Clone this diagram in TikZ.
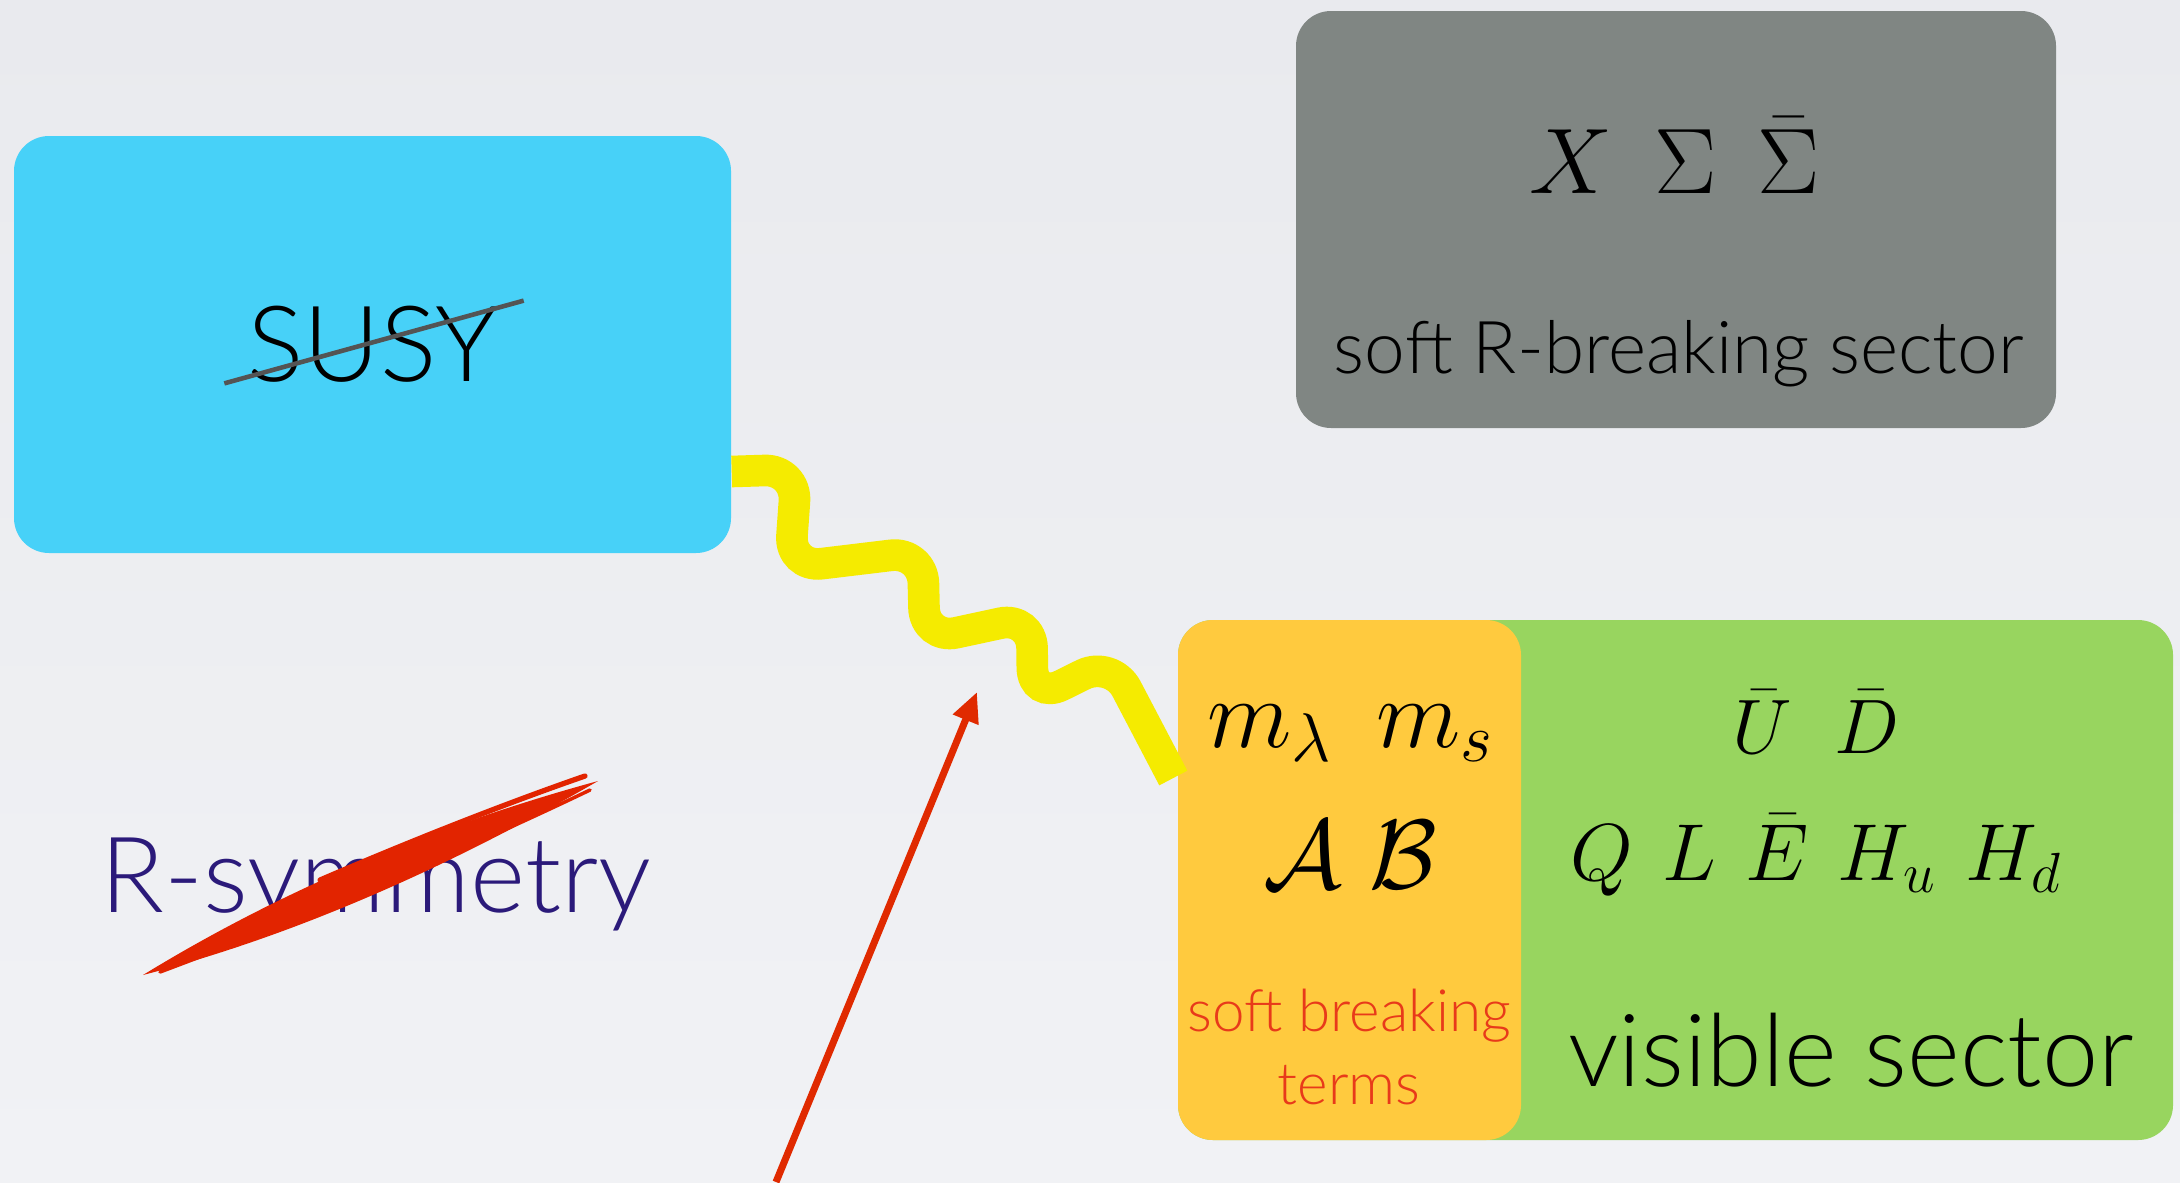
\documentclass[tikz,border=0pt]{standalone}
\usepackage{fix-cm}
\usepackage[no-math]{fontspec}
\IfFontExistsTF{Lato Light}{\setmainfont{Lato Light}}{\setmainfont{Carlito}}
\usetikzlibrary{arrows.meta, positioning, calc}

\definecolor{slidetop}{RGB}{233,234,238}
\definecolor{slidebot}{RGB}{241,242,245}
\definecolor{susyblue}{RGB}{71,209,248}
\definecolor{hiddengray}{RGB}{128,134,131}
\definecolor{visgreen}{RGB}{152,213,95}
\definecolor{softorange}{RGB}{255,202,62}
\definecolor{termred}{RGB}{232,58,26}
\definecolor{rpurple}{RGB}{43,26,122}
\definecolor{wiggleyellow}{RGB}{245,235,0}
\definecolor{arrowred}{RGB}{224,42,0}
\definecolor{brushred}{RGB}{226,36,0}

\begin{document}
\begin{tikzpicture}[
  every node/.style={align=center, inner sep=0pt},
  sector/.style={rounded corners=3.5mm, minimum height=4.17cm},
  bigtxt/.style={font=\fontsize{30}{36}\selectfont},
  midtxt/.style={font=\fontsize{20.75}{25}\selectfont},
  smalltxt/.style={font=\fontsize{16.6}{21}\selectfont, text=termred},
  hugetxt/.style={font=\fontsize{28.7}{34}\selectfont},
  strike/.style={draw=black!67, line width=1.3pt},
  wiggle/.style={draw=wiggleyellow, line width=9pt, rounded corners=3.2mm},
]

\path[use as bounding box, top color=slidetop, bottom color=slidebot] (0,0) rectangle (21.8,11.82);

% broken SUSY
\node [sector, fill=susyblue, minimum width=7.17cm] (susy_box) at (3.725,8.375) {};
\node [bigtxt] (susy_lbl) at (susy_box) {SUSY};
\draw [strike] ([xshift=-2.2mm]susy_lbl.south west) -- ([shift={(2.5mm,0.5mm)}]susy_lbl.north east);

% hidden sector
\node [sector, fill=hiddengray, minimum width=7.6cm] (hidden_box) at (16.76,9.625) {};
\node [font=\fontsize{26.5}{32}\selectfont, anchor=base] (hidden_fields) at (16.75,9.89) {$X\;\,\Sigma\;\,\bar\Sigma$};
\node [midtxt, anchor=base] (hidden_lbl) at (16.79,8.09) {soft R-breaking sector};

% visible sector with the soft terms
\node [sector, fill=visgreen, minimum width=9.95cm, minimum height=5.2cm] (vis_box) at (16.755,3.02) {};
\node [sector, fill=softorange, minimum width=3.43cm, minimum height=5.2cm, anchor=west] (soft_box) at (vis_box.west) {};

\node [font=\fontsize{28}{34}\selectfont, anchor=base] (soft_masses) at (13.51,4.35) {$m_\lambda\;\,m_s$};
\node [font=\fontsize{28}{34}\selectfont, anchor=base] (soft_ab) at (13.50,2.94) {$\mathcal{A}\;\mathcal{B}$};
\node [smalltxt] (soft_lbl) at (13.49,1.35) {soft breaking\\terms};

\node [font=\fontsize{22}{27}\selectfont, anchor=base] (vis_ud) at (18.16,4.29) {$\bar U\;\;\bar D$};
\node [font=\fontsize{23}{28}\selectfont, anchor=base] (vis_fields) at (18.16,3.02) {$Q\mskip6.5mu L\mskip6.5mu \bar E\mskip6.5mu H_u\mskip6.5mu H_d$};
\node [hugetxt, anchor=base] (vis_lbl) at (18.51,0.96) {visible sector};

% broken R-symmetry
\node [bigtxt, text=rpurple, anchor=base] (rsym_lbl) at (3.76,2.70) {R-symmetry};
\fill [brushred] (1.43,2.07) .. controls (2.85,2.94) and (4.40,3.58) .. (5.98,4.01)
                 .. controls (4.56,3.19) and (3.01,2.48) .. cycle;
\draw [brushred, line width=1.5pt, line cap=round] (3.2,3.02) .. controls (4.2,3.45) and (5.1,3.8) .. (5.85,4.06);
\draw [brushred, line width=1pt, line cap=round] (1.6,2.1) .. controls (2.8,2.55) and (4.4,3.2) .. (5.9,3.92);

% mediation
\draw [wiggle] ([yshift=-1.27cm]susy_box.east) -- ++(0.65,0.02) -- ++(-0.07,-0.98)
  -- ++(1.33,0.16) -- ++(0.02,-0.88) -- ++(1.07,0.23) -- ++(0.01,-0.83)
  -- ++(0.79,0.39) -- ([shift={(-0.04,1.02)}]soft_box.west);

% pointer
\coordinate (ptr_tail) at (7.76,0);
\coordinate (ptr_tip) at (9.77,4.90);
\draw [arrowred, line width=2pt, -{Triangle[length=3mm, width=2.6mm]}] (ptr_tail) -- (ptr_tip);

\end{tikzpicture}
\end{document}
